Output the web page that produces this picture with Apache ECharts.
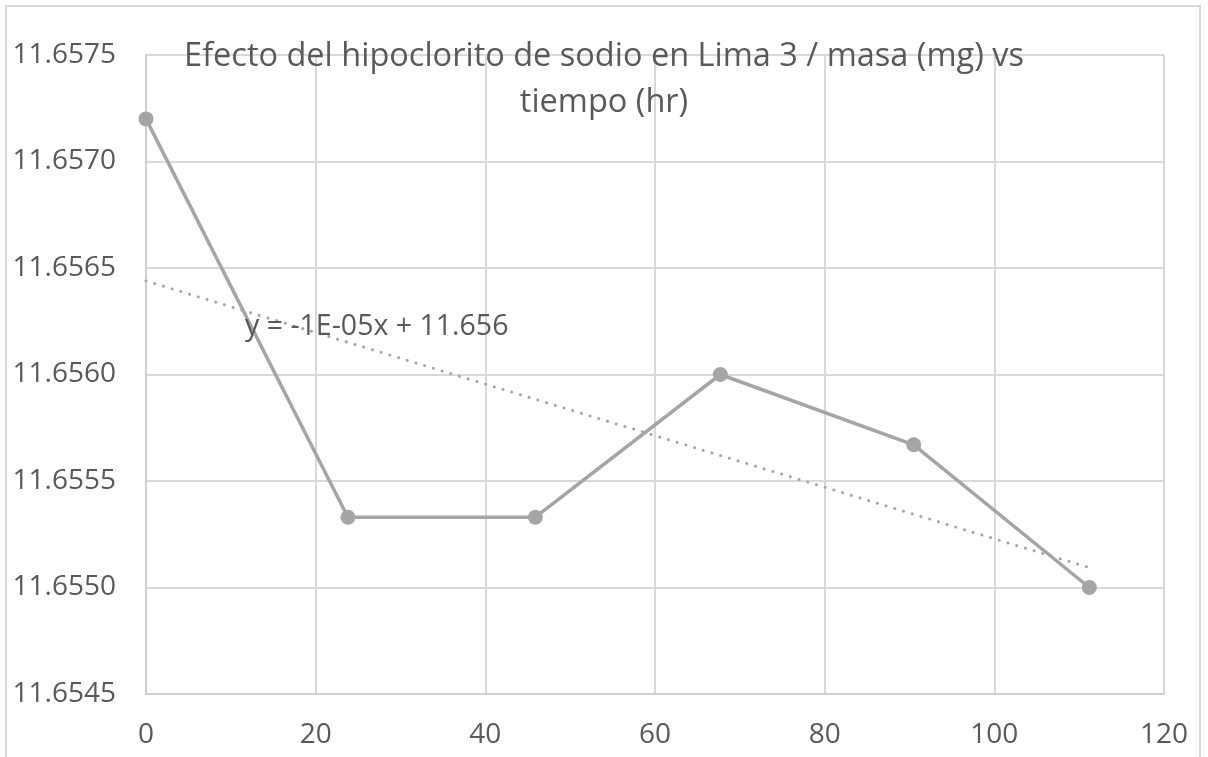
<!DOCTYPE html>
<html><head><meta charset="utf-8">
<script src="https://cdn.jsdelivr.net/npm/echarts@6/dist/echarts.min.js"></script>
<style>html,body{margin:0;padding:0;background:#fff}#c{width:1208px;height:757px}</style>
</head><body><div id="c"></div>
<script>
const titleText = 'Efecto del hipoclorito de sodio en Lima 3 / masa (mg) vs\ntiempo (hr)';
const timeHr = [0, 23.8, 45.9, 67.7, 90.5, 111.2];
const massMg = [11.6572, 11.65533, 11.65533, 11.6560, 11.65567, 11.6550];
const trendLabel = 'y = -1E-05x + 11.656';
const xTicks = {min: 0, max: 120, interval: 20};
const yTicks = {min: 11.6545, max: 11.6575, interval: 0.0005};

// linear least-squares trendline from the data
const n = timeHr.length;
const mx = timeHr.reduce((a,b)=>a+b,0)/n;
const my = massMg.reduce((a,b)=>a+b,0)/n;
let sxy = 0, sxx = 0;
for (let i=0;i<n;i++){ sxy += (timeHr[i]-mx)*(massMg[i]-my); sxx += (timeHr[i]-mx)**2; }
const slope = sxy/sxx, icpt = my - slope*mx;
const tx0 = timeHr[0], tx1 = timeHr[n-1];
const trendData = [[tx0, icpt+slope*tx0],[tx1, icpt+slope*tx1]];

const font = 'Open Sans';
const chart = echarts.init(document.getElementById('c'), null, {renderer:'canvas'});
chart.setOption({
  animation: false,
  backgroundColor: '#fff',
  title: {
    text: titleText, left: 'center', top: 29,
    textStyle: {fontFamily: font, fontSize: 32.5, fontWeight: 'normal', color: '#595959', lineHeight: 46}
  },
  grid: {left: 146, right: 44, top: 55, bottom: 63, containLabel: false},
  xAxis: {
    type: 'value', min: xTicks.min, max: xTicks.max, interval: xTicks.interval,
    axisLine: {show: true, lineStyle: {color: '#d0d0d0', width: 2}},
    axisTick: {show: false},
    splitLine: {show: true, lineStyle: {color: '#d9d9d9', width: 2}},
    axisLabel: {fontFamily: font, fontSize: 28, color: '#595959', margin: 27}
  },
  yAxis: {
    type: 'value', min: yTicks.min, max: yTicks.max, interval: yTicks.interval,
    axisLine: {show: true, lineStyle: {color: '#d0d0d0', width: 2}},
    axisTick: {show: false},
    splitLine: {show: true, lineStyle: {color: '#d9d9d9', width: 2}},
    axisLabel: {fontFamily: font, fontSize: 28, color: '#595959', margin: 30,
      formatter: v => v.toFixed(4)}
  },
  graphic: [
    {type: 'rect', shape: {x: 6, y: 6, width: 1194, height: 800}, style: {fill: 'none', stroke: '#d9d9d9', lineWidth: 2}, z: -1},
    {type: 'text', x: 245, y: 327, style: {text: trendLabel, font: '28.5px "Open Sans"', fill: '#595959', textVerticalAlign: 'middle', verticalAlign: 'middle'}, z: 10}
  ],
  series: [
    {type: 'line', data: timeHr.map((x,i)=>[x, massMg[i]]), symbol: 'circle', symbolSize: 15,
      lineStyle: {color: '#a5a5a5', width: 3.5}, itemStyle: {color: '#a5a5a5'}, z: 3},
    {type: 'line', data: trendData, symbol: 'none',
      lineStyle: {color: '#a5a5a5', width: 3, type: [0.1, 9], cap: 'round'}, z: 2}
  ]
});
</script></body></html>
